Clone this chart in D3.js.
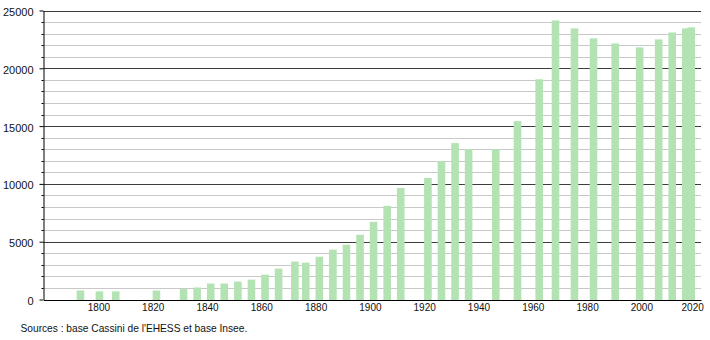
<!DOCTYPE html>
<html>
<head>
<meta charset="utf-8">
<script src="https://cdn.jsdelivr.net/npm/d3@7"></script>
<style>
body { margin:0; background:#fff; }
svg { display:block; font-family:"Liberation Sans", Arial, sans-serif; }
</style>
</head>
<body>
<div id="chart"></div>
<script>
// Census years and population
const years = [1793,1800,1806,1821,1831,1836,1841,1846,1851,1856,1861,1866,1872,1876,1881,1886,1891,1896,1901,1906,1911,1921,1926,1931,1936,1946,1954,1962,1968,1975,1982,1990,1999,2006,2011,2016,2018];
const population = [780,700,700,780,900,1040,1380,1380,1550,1720,2150,2670,3280,3190,3700,4310,4740,5600,6720,8100,9650,10520,11980,13530,13020,13000,15430,19050,24140,23450,22590,22150,21810,22500,23100,23450,23540];

const xTicks = [1800,1820,1840,1860,1880,1900,1920,1940,1960,1980,2000,2020];
const yTicks = [0,5000,10000,15000,20000,25000];
const sourceText = "Sources : base Cassini de l'EHESS et base Insee.";

const data = years.map((y, i) => ({year:y, value:population[i]}));

// plot box
const W = 710, H = 340;
const box = {left:43.5, right:701, top:10.5, bottom:299.5};

const svg = d3.select("#chart")
.append("svg")
.attr("width", W)
.attr("height", H);

// scales
const x = d3.scaleLinear()
.domain([1779.4, 2021.6])
.range([box.left, box.right]);

const y = d3.scaleLinear()
.domain([0, 25000])
.range([box.bottom, box.top]);

const minor = d3.range(1000, 25000, 1000).filter(v => v % 5000 !== 0);

// minor grid every 1000
svg.append("g")
.selectAll("line")
.data(minor)
.enter()
.append("line")
.attr("x1", box.left).attr("x2", box.right)
.attr("y1", d => Math.round(y(d)) + 0.5)
.attr("y2", d => Math.round(y(d)) + 0.5)
.attr("stroke", "#c8c8c8");

// major grid every 5000
svg.append("g")
.selectAll("line")
.data(yTicks.filter(v => v > 0))
.enter()
.append("line")
.attr("x1", box.left).attr("x2", box.right)
.attr("y1", d => Math.round(y(d)) + 0.5)
.attr("y2", d => Math.round(y(d)) + 0.5)
.attr("stroke", "#3c3c3c");

// bars
const bw = 7.6;
svg.append("g")
.selectAll("rect")
.data(data)
.enter()
.append("rect")
.attr("x", d => x(d.year) - bw / 2)
.attr("y", d => y(d.value))
.attr("width", bw)
.attr("height", d => box.bottom + 0.5 - y(d.value))
.attr("fill", "#b3e3b3");

// y axis with minor ticks
const yAxis = svg.append("g")
.attr("transform", `translate(${box.left},0)`)
.call(d3.axisLeft(y).tickValues(yTicks).tickFormat(d3.format("d")).tickSize(4).tickSizeOuter(0).tickPadding(6));

yAxis.select(".domain").attr("stroke", "#000");
yAxis.selectAll(".tick line").attr("stroke", "#000");
yAxis.selectAll(".tick text")
.attr("font-size", 11)
.attr("fill", "#111")
.attr("dy", "0.45em");

svg.append("g")
.selectAll("line")
.data(minor)
.enter()
.append("line")
.attr("x1", box.left - 2).attr("x2", box.left)
.attr("y1", d => Math.round(y(d)) + 0.5)
.attr("y2", d => Math.round(y(d)) + 0.5)
.attr("stroke", "#000");

// x axis
const xAxis = svg.append("g")
.attr("transform", `translate(0,${box.bottom + 0.5})`)
.call(d3.axisBottom(x).tickValues(xTicks).tickFormat(d3.format("d")).tickSize(0).tickSizeOuter(0).tickPadding(4));

xAxis.select(".domain").attr("stroke", "#000");
xAxis.selectAll(".tick text")
.attr("font-size", 10)
.attr("fill", "#111")
.attr("dx", d => d === 2020 ? -4.5 : -1);

// source
svg.append("text")
.attr("x", 20.5)
.attr("y", 332)
.attr("font-size", 10.2)
.attr("fill", "#111")
.text(sourceText);
</script>
</body>
</html>
